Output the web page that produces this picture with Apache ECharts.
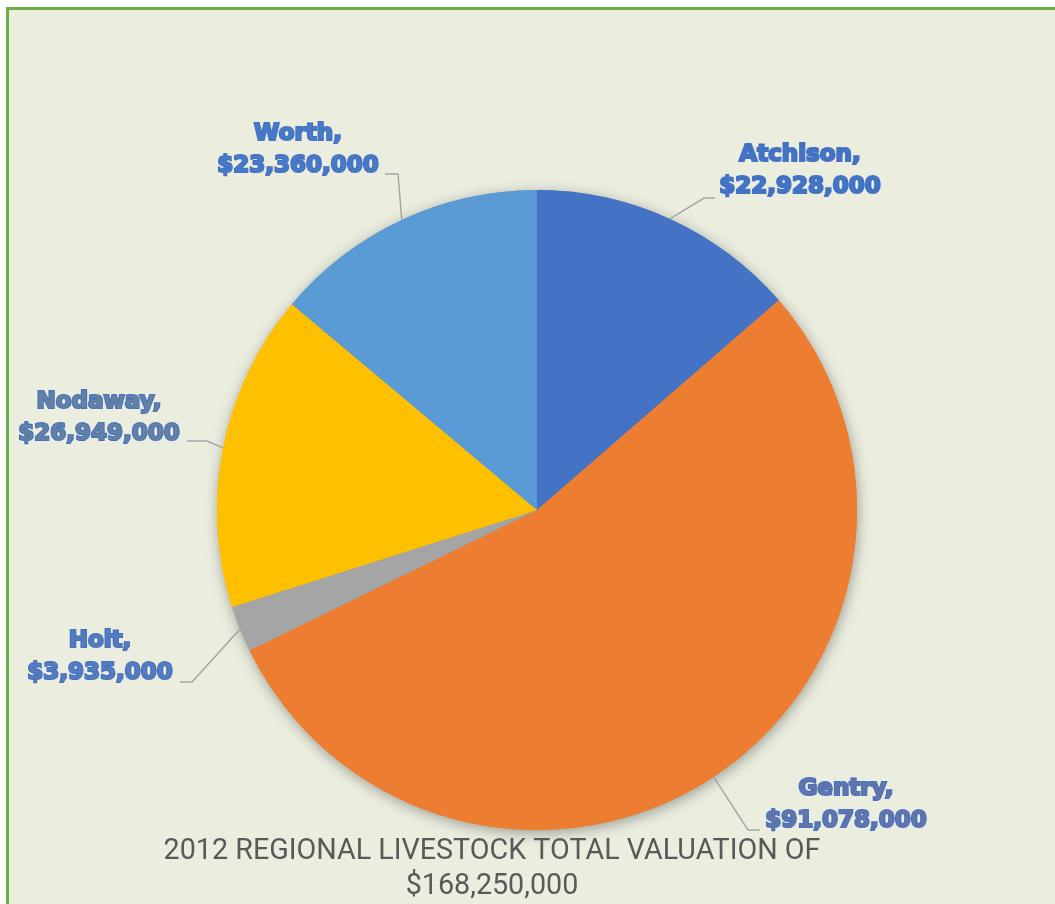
<!DOCTYPE html>
<html>
<head>
<meta charset="utf-8">
<title>2012 Regional Livestock Total Valuation</title>
<script src="https://cdn.jsdelivr.net/npm/echarts@6/dist/echarts.min.js"></script>
<style>
  html, body { margin: 0; padding: 0; background: #ffffff; overflow: hidden; }
  #frame {
    position: absolute; left: 6px; top: 7px;
    width: 1120px; height: 960px;
    border: 3px solid #70AD47;
    background: #EBEEDF;
  }
  #chart { position: absolute; left: 0; top: 0; width: 1055px; height: 904px; }
</style>
</head>
<body>
<div id="frame"></div>
<div id="chart"></div>
<script>
// Livestock valuation by county, 2012 (US dollars)
const counties = ['Atchison', 'Gentry', 'Holt', 'Nodaway', 'Worth'];
const valuations = [22928000, 91078000, 3935000, 26949000, 23360000];
const sliceColors = ['#4472C4', '#ED7D31', '#A5A5A5', '#FFC000', '#5B9BD5'];
const titleText = '2012 REGIONAL LIVESTOCK TOTAL VALUATION OF';

// Where each county's label block sits, and the elbow/end of its leader line
const labelSpots = [
  { x: 800, y: 171, elbow: [704, 198], end: [715, 198] },
  { x: 846, y: 805, elbow: [748, 830], end: [760, 830] },
  { x: 100, y: 657, elbow: [192, 682], end: [180, 682] },
  { x: 99,  y: 418, elbow: [207, 441], end: [187, 441] },
  { x: 298, y: 150, elbow: [398, 174], end: [385, 174] }
];

const LABEL_BLUE = '#4472C4';

const fmt = v => v.toString().replace(/\B(?=(\d{3})+(?!\d))/g, ',');
const total = valuations.reduce((a, b) => a + b, 0);

// label fill: accent blue with a light tint of the slice colour
function tint(hex, amount) {
  const a = parseInt(LABEL_BLUE.slice(1), 16), b = parseInt(hex.slice(1), 16);
  const ch = (v, s) => (v >> s) & 255;
  const mix = s => Math.round(ch(a, s) * (1 - amount) + ch(b, s) * amount);
  return 'rgb(' + mix(16) + ',' + mix(8) + ',' + mix(0) + ')';
}

const pieData = counties.map((name, i) => ({
  name: name,
  value: valuations[i],
  itemStyle: { color: sliceColors[i] },
  label: { color: tint(sliceColors[i], 0.18) }
}));

const chart = echarts.init(document.getElementById('chart'), null, { renderer: 'canvas' });

chart.setOption({
  backgroundColor: 'transparent',
  animation: false,
  title: {
    text: titleText + '\n$' + fmt(total),
    left: 487,
    top: 829,
    textAlign: 'center',
    textStyle: {
      fontFamily: '"Liberation Sans Narrow", Roboto, sans-serif',
      fontSize: 28.7,
      fontWeight: 'normal',
      color: '#595959',
      lineHeight: 35
    }
  },
  series: [
    {
      // soft drop shadow beneath the pie
      type: 'pie',
      silent: true,
      center: [537, 510],
      radius: 320,
      startAngle: 90,
      clockwise: true,
      label: { show: false },
      labelLine: { show: false },
      data: pieData.map(d => ({ name: d.name, value: d.value, itemStyle: { color: d.itemStyle.color } })),
      itemStyle: {
        shadowBlur: 14,
        shadowColor: 'rgba(0,0,0,0.35)',
        shadowOffsetX: 1,
        shadowOffsetY: 3
      },
      z: 1
    },
    {
      type: 'pie',
      center: [537, 510],
      radius: 320,
      startAngle: 90,
      clockwise: true,
      z: 2,
      data: pieData,
      itemStyle: { borderWidth: 0 },
      label: {
        show: true,
        position: 'outside',
        formatter: p => p.name + ',\n$' + fmt(p.value),
        fontFamily: '"DejaVu Sans", sans-serif',
        fontWeight: 'bold',
        fontSize: 23,
        lineHeight: 32,
        textBorderColor: LABEL_BLUE,
        textBorderWidth: 2.2,
        align: 'center'
      },
      labelLine: {
        show: true,
        lineStyle: { color: '#A6A6A6', width: 1.5 }
      },
      labelLayout: function (params) {
        const s = labelSpots[params.dataIndex];
        const start = params.labelLinePoints ? params.labelLinePoints[0] : s.elbow;
        return {
          x: s.x,
          y: s.y,
          align: 'center',
          verticalAlign: 'middle',
          labelLinePoints: [start, s.elbow, s.end]
        };
      }
    }
  ]
});
</script>
</body>
</html>
